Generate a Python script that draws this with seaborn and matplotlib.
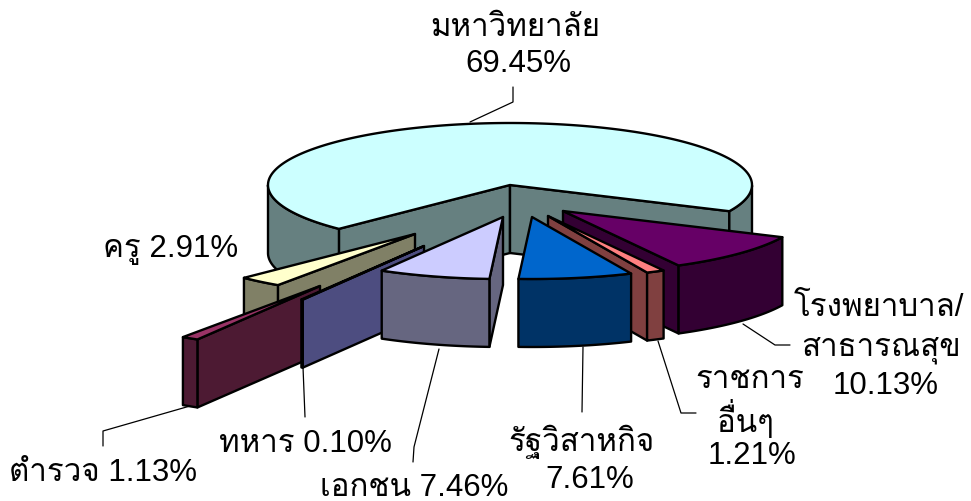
import numpy as np
import pandas as pd
import matplotlib
matplotlib.use("Agg")
import matplotlib.pyplot as plt
import seaborn as sns

# slices clockwise from the right hand cut of the big slice
names = ["hospital", "other_gov", "state", "private", "army", "police", "teacher", "university"]
values = [10.13, 1.21, 7.61, 7.46, 0.10, 1.13, 2.91, 69.45]
top_colors = ["#660066", "#FF8080", "#0066CC", "#CCCCFF", "#9999FF", "#993366", "#FFFFCC", "#CCFFFF"]

# how far each slice is pulled out of the pie, in pixels
pull_x = [53, 38, 22, -7, -86, -190, -95, 0]
pull_y = [26, 31, 32, 32, 61, 101, 49, 0]

# back to front
draw_order = ["university", "teacher", "police", "army", "private", "hospital", "other_gov", "state"]

labels = ["มหาวิทยาลัย", "69.45%", "ครู 2.91%", "โรงพยาบาล/", "สาธารณสุข", "10.13%", "ราชการ", "อื่นๆ", "1.21%",
          "รัฐวิสาหกิจ", "7.61%", "เอกชน 7.46%", "ทหาร 0.10%", "ตำรวจ 1.13%"]
label_x = [515, 518, 171, 879, 881, 886, 750, 746, 752, 582, 590, 414, 305, 103]
label_y = [28, 64, 250, 308, 349, 386, 380, 420, 456, 442, 480, 488, 444, 473]

leader_x = [[470, 513, 513], [743, 775, 790], [658, 681, 696], [583, 582], [439, 414, 413], [303, 305], [190, 103, 103]]
leader_y = [[123, 103, 88], [325, 346, 346], [342, 414, 414], [348, 413], [350, 448, 463], [368, 418], [407, 432, 447]]

cx, cy = 510, 186
rx, ry = 242, 62
depth = 68
start_deg = 25

sns.set_theme(style="white")
plt.rcParams["font.family"] = ["Liberation Sans", "Loma"]

df = pd.DataFrame({"name": names, "value": values, "top": top_colors, "dx": pull_x, "dy": pull_y})
df["start"] = start_deg + df["value"].cumsum().shift(fill_value=0) * 3.6
df["end"] = df["start"] + df["value"] * 3.6
df = df.set_index("name")

fig, ax = plt.subplots(figsize=(9.71, 5.02), dpi=100)
fig.subplots_adjust(0, 0, 1, 1)
ax.set_xlim(0, 971)
ax.set_ylim(502, 0)
ax.axis("off")

edge = dict(edgecolor="black", linewidth=1.7, joinstyle="round")


def draw_slice(row):
    px, py = cx + row.dx, cy + row.dy
    deg = np.r_[np.arange(row.start, row.end, 0.5), row.end]
    t = np.radians(deg)
    xs = px + rx * np.cos(t)
    ys = py + ry * np.sin(t)
    side = tuple(c * 0.5 for c in matplotlib.colors.to_rgb(row.top))

    # a cut face only shows when it drops away from the slice's top
    if np.cos(t[0]) < 0:
        ax.fill([px, xs[0], xs[0], px], [py, ys[0], ys[0] + depth, py + depth], facecolor=side, **edge)
    if np.cos(t[-1]) > 0:
        ax.fill([px, xs[-1], xs[-1], px], [py, ys[-1], ys[-1] + depth, py + depth], facecolor=side, **edge)

    # outer wall, only the runs of the rim on the near side
    near = np.sin(t) >= 0
    runs = np.split(np.arange(len(t)), np.where(np.diff(near.astype(int)) != 0)[0] + 1)
    for run in runs:
        if near[run[0]] and len(run) > 1:
            ax.fill(np.r_[xs[run], xs[run][::-1]], np.r_[ys[run], ys[run][::-1] + depth], facecolor=side, **edge)

    ax.fill(np.r_[px, xs], np.r_[py, ys], facecolor=row.top, **edge)


for name in draw_order:
    draw_slice(df.loc[name])

for xs, ys in zip(leader_x, leader_y):
    ax.plot(xs, ys, color="black", linewidth=0.9)

for text, x, y in zip(labels, label_x, label_y):
    ax.text(x, y, text, ha="center", va="center", fontsize=22.5, color="black")

fig.savefig("out.png", dpi=100)
